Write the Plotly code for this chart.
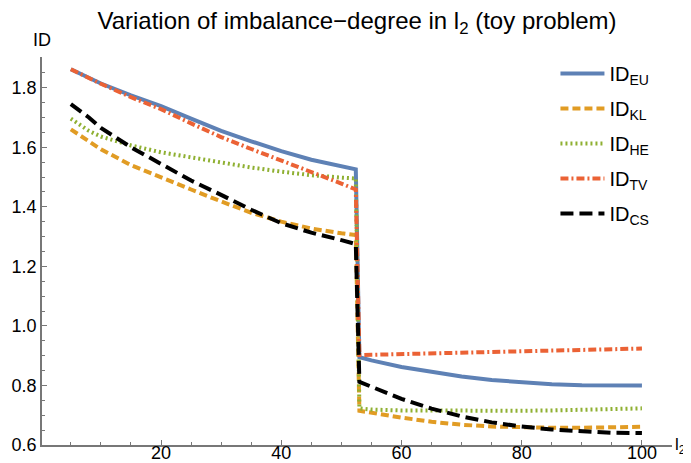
import plotly.graph_objects as go

# x positions (l2)
l2 = [5, 8, 10, 15, 20, 25, 30, 35, 40, 45, 50, 52.4,
      53, 55, 60, 65, 70, 75, 80, 85, 90, 95, 100]

id_eu = [1.862, 1.832, 1.814, 1.774, 1.738, 1.696, 1.655, 1.620, 1.587, 1.558, 1.536, 1.526,
         0.895, 0.884, 0.862, 0.845, 0.830, 0.818, 0.810, 0.804, 0.801, 0.800, 0.800]
id_kl = [1.660, 1.618, 1.593, 1.540, 1.498, 1.458, 1.418, 1.380, 1.350, 1.327, 1.311, 1.305,
         0.715, 0.708, 0.692, 0.678, 0.668, 0.662, 0.659, 0.658, 0.658, 0.659, 0.661]
id_he = [1.696, 1.655, 1.636, 1.606, 1.583, 1.565, 1.548, 1.532, 1.518, 1.506, 1.498, 1.495,
         0.723, 0.719, 0.716, 0.715, 0.714, 0.714, 0.715, 0.716, 0.718, 0.720, 0.723]
id_tv = [1.862, 1.832, 1.813, 1.768, 1.728, 1.680, 1.634, 1.594, 1.556, 1.518, 1.478, 1.458,
         0.902, 0.903, 0.905, 0.907, 0.909, 0.912, 0.914, 0.917, 0.919, 0.922, 0.924]
id_cs = [1.745, 1.700, 1.665, 1.600, 1.544, 1.488, 1.440, 1.390, 1.345, 1.313, 1.288, 1.275,
         0.812, 0.795, 0.755, 0.722, 0.696, 0.676, 0.662, 0.652, 0.645, 0.641, 0.640]

x_ticks = [20, 40, 60, 80, 100]
y_ticks = [0.6, 0.8, 1.0, 1.2, 1.4, 1.6, 1.8]
y_tick_labels = ["0.6", "0.8", "1.0", "1.2", "1.4", "1.6", "1.8"]

FONT = "Liberation Sans, Arial, Helvetica, sans-serif"

series = [
    ("ID<sub>EU</sub>", id_eu, "#5E81B5", "solid"),
    ("ID<sub>KL</sub>", id_kl, "#E19C24", "8px,4px"),
    ("ID<sub>HE</sub>", id_he, "#8FB032", "2px,3px"),
    ("ID<sub>TV</sub>", id_tv, "#EB6235", "8px,3px,2px,3px"),
    ("ID<sub>CS</sub>", id_cs, "#000000", "13px,6px"),
]

fig = go.Figure()
for i, (name, vals, color, dash) in enumerate(series):
    fig.add_trace(go.Scatter(x=l2, y=vals, mode="lines", name=name,
                             legendgroup=f"g{i}",
                             line=dict(color=color, width=4, dash=dash)))

axis_color = "#777777"
# the page body has an 8px default margin: margins are shifted to compensate
fig.update_layout(
    width=691, height=463, autosize=False,
    margin=dict(l=34, r=27, t=49, b=26),
    paper_bgcolor="white", plot_bgcolor="white",
    font=dict(family=FONT, size=18, color="black"),
    title=dict(text="Variation of imbalance−degree in l<sub>2</sub> (toy problem)",
               x=0.5, xref="paper", xanchor="center", y=1 - 13 / 463, yref="container",
               yanchor="middle",
               font=dict(family=FONT, size=24, color="black")),
    showlegend=True,
    legend=dict(x=0.815, y=1.008, xanchor="left", yanchor="top",
                font=dict(family=FONT, size=20), itemwidth=44,
                bgcolor="rgba(0,0,0,0)", tracegroupgap=6),
    xaxis=dict(range=[0.2, 105], showgrid=False, zeroline=False,
               showline=True, linecolor=axis_color, linewidth=1.5,
               tickvals=x_ticks, ticks="inside", ticklen=5, tickcolor=axis_color,
               tickwidth=1, ticklabelstandoff=-9,
               tickfont=dict(size=18, family=FONT, color="black"),
               minor=dict(ticks="inside", ticklen=3, dtick=5, tick0=0, tickcolor=axis_color),
               automargin=False, fixedrange=True),
    yaxis=dict(range=[0.6, 1.903], showgrid=False, zeroline=False,
               showline=True, linecolor=axis_color, linewidth=1.5,
               tickvals=y_ticks, ticktext=y_tick_labels, ticks="inside", ticklen=5,
               tickcolor=axis_color, tickwidth=1,
               tickfont=dict(size=18, family=FONT, color="black"),
               minor=dict(ticks="inside", ticklen=3, dtick=0.05, tick0=0.6, tickcolor=axis_color),
               automargin=False, fixedrange=True),
    annotations=[
        dict(text="ID", x=0, xref="paper", y=1.0, yref="paper", xanchor="center",
             yanchor="bottom", yshift=5, showarrow=False,
             font=dict(family=FONT, size=18, color="black")),
        dict(text="l<sub>2</sub>", x=1.0, xref="paper", y=0, yref="paper", xanchor="left",
             yanchor="middle", xshift=1, yshift=-1, showarrow=False,
             font=dict(family=FONT, size=17, color="black")),
    ],
)

fig.write_html("out.html")
